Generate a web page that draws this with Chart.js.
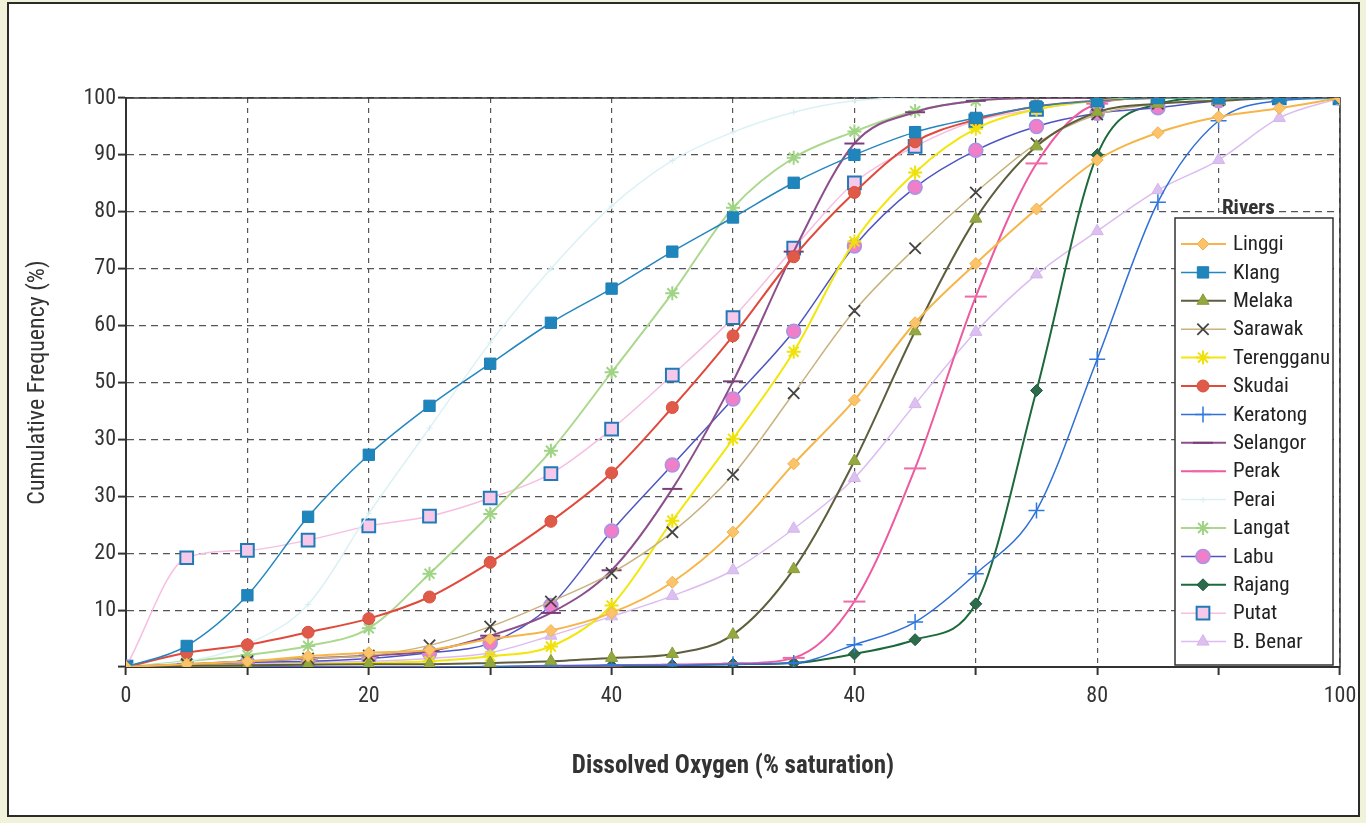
<!DOCTYPE html>
<html>
<head>
<meta charset="utf-8">
<title>Dissolved Oxygen - cumulative frequency by river</title>
<script src="https://cdn.jsdelivr.net/npm/chart.js@4.4.1/dist/chart.umd.min.js"></script>
<style>
  html, body { margin: 0; padding: 0; background: #f1f2da; }
  #frame { position: absolute; left: 7px; top: 2px; width: 1349px; height: 811px; border: 2px solid #2b2b2b; background: #fff; }
  #chart { position: absolute; left: 0; top: 0; }
</style>
</head>
<body>
<div id="frame"></div>
<canvas id="chart" width="1366" height="823"></canvas>
<script>
// x positions (% saturation) where every river was sampled
const doLevels = [0, 5, 10, 15, 20, 25, 30, 35, 40, 45, 50, 55, 60, 65, 70, 75, 80, 85, 90, 95, 100];

// cumulative frequency (%) per river
const linggi     = [0, 0.5, 1, 1.9, 2.5, 3, 4.9, 6.4, 9.5, 14.9, 23.7, 35.7, 46.9, 60.5, 70.9, 80.5, 89.1, 93.9, 96.7, 98.2, 100];
const klang      = [0, 3.7, 12.6, 26.4, 37.3, 45.9, 53.3, 60.5, 66.5, 73, 79, 85.1, 90, 94, 96.5, 98.5, 99.5, 100, 100, 100, 100];
const melaka     = [0, 0.2, 0.3, 0.4, 0.5, 0.5, 0.7, 1, 1.6, 2.3, 5.7, 17.2, 36.2, 59, 78.8, 91.5, 97.5, 99, 99.5, 100, 100];
const sarawak    = [0, 0.5, 1, 1.5, 2, 3.8, 7.1, 11.5, 16.5, 23.7, 33.8, 48.1, 62.6, 73.6, 83.4, 92, 97.1, 99, 99.6, 100, 100];
const terengganu = [0, 0.2, 0.3, 0.5, 0.7, 1, 1.9, 3.6, 10.8, 25.7, 40.1, 55.4, 74.8, 86.9, 94.6, 98, 99.5, 100, 100, 100, 100];
const skudai     = [0, 2.5, 3.9, 6.1, 8.5, 12.3, 18.4, 25.6, 34.1, 45.6, 58.2, 72.1, 83.4, 92.3, 96.2, 98.5, 99.5, 100, 100, 100, 100];
const keratong   = [0, 0, 0, 0, 0, 0, 0.1, 0.2, 0.3, 0.3, 0.5, 0.7, 3.9, 7.9, 16.4, 27.5, 54.1, 81.7, 96, 99.5, 100];
const selangor   = [0, 0.5, 1, 1.5, 2, 2.8, 5.5, 9.5, 17, 31.3, 50.2, 73, 92, 97.5, 99.5, 100, 100, 100, 100, 100, 100];
const perak      = [0, 0, 0, 0, 0, 0, 0, 0.2, 0.3, 0.4, 0.6, 1.6, 11.5, 34.9, 65.1, 88.5, 99, 100, 100, 100, 100];
const perai      = [0, 1, 4, 11, 27, 42, 57, 70, 81, 89, 94, 97.5, 99.5, 100, 100, 100, 100, 100, 100, 100, 100];
const langat     = [0, 1, 2.1, 3.7, 6.8, 16.4, 26.9, 38, 51.8, 65.7, 80.7, 89.5, 94.1, 97.7, 99.5, 100, 100, 100, 100, 100, 100];
const labu       = [0, 0.5, 0.8, 1, 1.5, 2.5, 4.2, 10.8, 23.9, 35.5, 47.1, 59, 74, 84.3, 90.8, 95, 97.3, 98.3, 99.5, 100, 100];
const rajang     = [0, 0, 0, 0, 0, 0, 0, 0.1, 0.2, 0.3, 0.5, 0.7, 2.3, 4.8, 11.1, 48.6, 90, 98.9, 100, 100, 100];
const putat      = [0, 19.2, 20.5, 22.3, 24.8, 26.5, 29.7, 34, 41.8, 51.3, 61.4, 73.6, 85.1, 91.5, 96, 98, 99.5, 100, 100, 100, 100];
const bBenar     = [0, 0.3, 0.5, 0.8, 1, 1.5, 2.5, 5.5, 8.9, 12.5, 17, 24.3, 33.2, 46.2, 58.9, 69, 76.6, 83.8, 89.1, 96.5, 100];

const riverNames  = ['Linggi', 'Klang', 'Melaka', 'Sarawak', 'Terengganu', 'Skudai', 'Keratong', 'Selangor',
                     'Perak', 'Perai', 'Langat', 'Labu', 'Rajang', 'Putat', 'B. Benar'];
const riverValues = [linggi, klang, melaka, sarawak, terengganu, skudai, keratong, selangor,
                     perak, perai, langat, labu, rajang, putat, bBenar];

// tick labels exactly as printed (the original repeats "40" and "30")
const xTickValues = [0, 20, 40, 60, 80, 100];
const xTickText   = ['0', '20', '40', '40', '80', '100'];
const yTickValues = [10, 20, 30, 40, 50, 60, 70, 80, 90, 100];
const yTickText   = ['10', '20', '30', '30', '50', '60', '70', '80', '90', '100'];

const FONT = "'Liberation Sans Narrow', 'Arial Narrow', 'Roboto Condensed', sans-serif";

// line / marker look of each river
const riverStyles = {
    'Linggi':     { line: '#f6b548', fill: '#fbc46a', edge: '#f3b04a', shape: 'rectRot',  r: 6,  bw: 1,   lw: 2 },
    'Klang':      { line: '#2586bf', fill: '#1f86bd', edge: '#1f7fb5', shape: 'rect',     r: 8,  bw: 1,   lw: 1.5 },
    'Melaka':     { line: '#5e5e3e', fill: '#93a83e', edge: '#8a9c3a', shape: 'triangle', r: 7,  bw: 1,   lw: 2 },
    'Sarawak':    { line: '#c8b27e', fill: '#444', edge: '#444', shape: 'crossRot', r: 8,  bw: 1.8, lw: 1.5 },
    'Terengganu': { line: '#f2e60c', fill: '#f2e60c', edge: '#eee20a', shape: 'star',     r: 7,  bw: 2,   lw: 2 },
    'Skudai':     { line: '#e04a3c', fill: '#df5a48', edge: '#d85040', shape: 'circle',   r: 6,  bw: 1,   lw: 2 },
    'Keratong':   { line: '#2f6fd6', fill: '#2f78e0', edge: '#2f78e0', shape: 'cross',    r: 8,  bw: 1.5, lw: 1.5 },
    'Selangor':   { line: '#8c4f8c', fill: '#7a3f7a', edge: '#7a3f7a', shape: 'line',     r: 10, bw: 2,   lw: 2 },
    'Perak':      { line: '#ee5aa0', fill: '#f06aa8', edge: '#f06aa8', shape: 'line',     r: 11, bw: 2,   lw: 2 },
    'Perai':      { line: '#dcf1f5', fill: '#d6edf2', edge: '#d6edf2', shape: 'cross',    r: 3,  bw: 1,   lw: 1.5 },
    'Langat':     { line: '#acd88e', fill: '#9fd485', edge: '#9fd485', shape: 'star',     r: 7,  bw: 2,   lw: 2 },
    'Labu':       { line: '#4f55c0', fill: '#f07ec8', edge: '#a596e6', shape: 'circle',   r: 7,  bw: 1.5, lw: 1.5 },
    'Rajang':     { line: '#1c6a3c', fill: '#2c6b4c', edge: '#22573c', shape: 'rectRot',  r: 6,  bw: 1,   lw: 2 },
    'Putat':      { line: '#f6bfe2', fill: '#f6c8ea', edge: '#1f7ab6', shape: 'rect',     r: 9,  bw: 2,   lw: 1.5 },
    'B. Benar':   { line: '#dcbcf0', fill: '#dcc0f0', edge: '#d4b4ec', shape: 'triangle', r: 7,  bw: 1,   lw: 1.5 }
};

const datasets = riverNames.map(function(name, i) {
    const s = riverStyles[name];
    return {
        label: name,
        data: doLevels.map((x, j) => ({ x: x, y: riverValues[i][j] })),
        borderColor: s.line,
        borderWidth: s.lw,
        backgroundColor: s.fill,
        pointStyle: s.shape,
        pointRadius: s.r,
        pointBackgroundColor: s.fill,
        pointBorderColor: s.edge,
        pointBorderWidth: s.bw,
        cubicInterpolationMode: 'monotone',
        fill: false
    };
});

// solid box round the plot area
const plotFrame = {
    id: 'plotFrame',
    beforeDatasetsDraw(chart) {
        const a = chart.chartArea, ctx = chart.ctx;
        ctx.save();
        ctx.strokeStyle = '#333';
        ctx.lineWidth = 1.5;
        ctx.strokeRect(a.left, a.top, a.right - a.left, a.bottom - a.top);
        ctx.restore();
    }
};

// the "Rivers" legend sits inside the plot, over the lines
const riversLegend = {
    id: 'riversLegend',
    afterDatasetsDraw(chart) {
        const ctx = chart.ctx;
        const box = { left: 1175, top: 218, width: 158, height: 447 };
        const rowTop = 244, rowStep = 28.4;
        ctx.save();
        ctx.fillStyle = '#fff';
        ctx.fillRect(box.left, box.top, box.width, box.height);
        ctx.strokeStyle = '#333';
        ctx.lineWidth = 1.5;
        ctx.strokeRect(box.left, box.top, box.width, box.height);

        ctx.fillStyle = '#333';
        ctx.font = 'bold 21px ' + FONT;
        ctx.textBaseline = 'alphabetic';
        ctx.textAlign = 'left';
        ctx.fillText('Rivers', 1222, 214);

        chart.data.datasets.forEach(function(ds, i) {
            const y = rowTop + i * rowStep;
            ctx.strokeStyle = ds.borderColor;
            ctx.lineWidth = ds.borderWidth;
            ctx.beginPath();
            ctx.moveTo(1181, y);
            ctx.lineTo(1226, y);
            ctx.stroke();

            ctx.fillStyle = ds.pointBackgroundColor;
            ctx.strokeStyle = ds.pointBorderColor;
            ctx.lineWidth = ds.pointBorderWidth;
            Chart.helpers.drawPoint(ctx, {
                pointStyle: ds.pointStyle,
                radius: ds.pointRadius,
                rotation: 0,
                borderWidth: ds.pointBorderWidth
            }, 1203, y);

            ctx.fillStyle = '#222';
            ctx.font = '21px ' + FONT;
            ctx.textBaseline = 'middle';
            ctx.fillText(ds.label, 1233, y + 1);
        });
        ctx.restore();
    }
};

new Chart(document.getElementById('chart'), {
    type: 'line',
    data: { datasets: datasets },
    options: {
        responsive: false,
        animation: false,
        layout: { padding: { left: 20, top: 98, right: 26, bottom: 37 } },
        plugins: {
            legend: { display: false },
            tooltip: { enabled: false }
        },
        scales: {
            x: {
                type: 'linear',
                min: 0,
                max: 100,
                afterFit: function(scale) { scale.height = 119; },
                ticks: {
                    stepSize: 10,
                    autoSkip: false,
                    maxRotation: 0,
                    padding: 8,
                    color: '#333',
                    font: { family: FONT, size: 22 },
                    callback: function(value) {
                        const k = xTickValues.indexOf(value);
                        return k >= 0 ? xTickText[k] : '';
                    }
                },
                grid: {
                    color: '#555',
                    lineWidth: 1.2,
                    tickLength: 8,
                    tickColor: '#333',
                    tickWidth: 2,
                    tickBorderDash: []
                },
                border: { display: true, color: '#333', width: 2, dash: [5, 5] },
                title: {
                    display: true,
                    text: 'Dissolved Oxygen (% saturation)',
                    color: '#333',
                    font: { family: FONT, size: 25, weight: 'bold' }
                }
            },
            y: {
                min: 0,
                max: 100,
                afterFit: function(scale) { scale.width = 106; },
                ticks: {
                    stepSize: 10,
                    autoSkip: false,
                    padding: 2,
                    color: '#333',
                    font: { family: FONT, size: 22 },
                    callback: function(value) {
                        const k = yTickValues.indexOf(value);
                        return k >= 0 ? yTickText[k] : '';
                    }
                },
                grid: {
                    color: '#555',
                    lineWidth: 1.2,
                    tickLength: 8,
                    tickColor: '#333',
                    tickWidth: 2,
                    tickBorderDash: []
                },
                border: { display: true, color: '#333', width: 2, dash: [7, 5] },
                title: {
                    display: true,
                    text: 'Cumulative Frequency (%)',
                    color: '#333',
                    font: { family: FONT, size: 24 }
                }
            }
        }
    },
    plugins: [plotFrame, riversLegend]
});
</script>
</body>
</html>
